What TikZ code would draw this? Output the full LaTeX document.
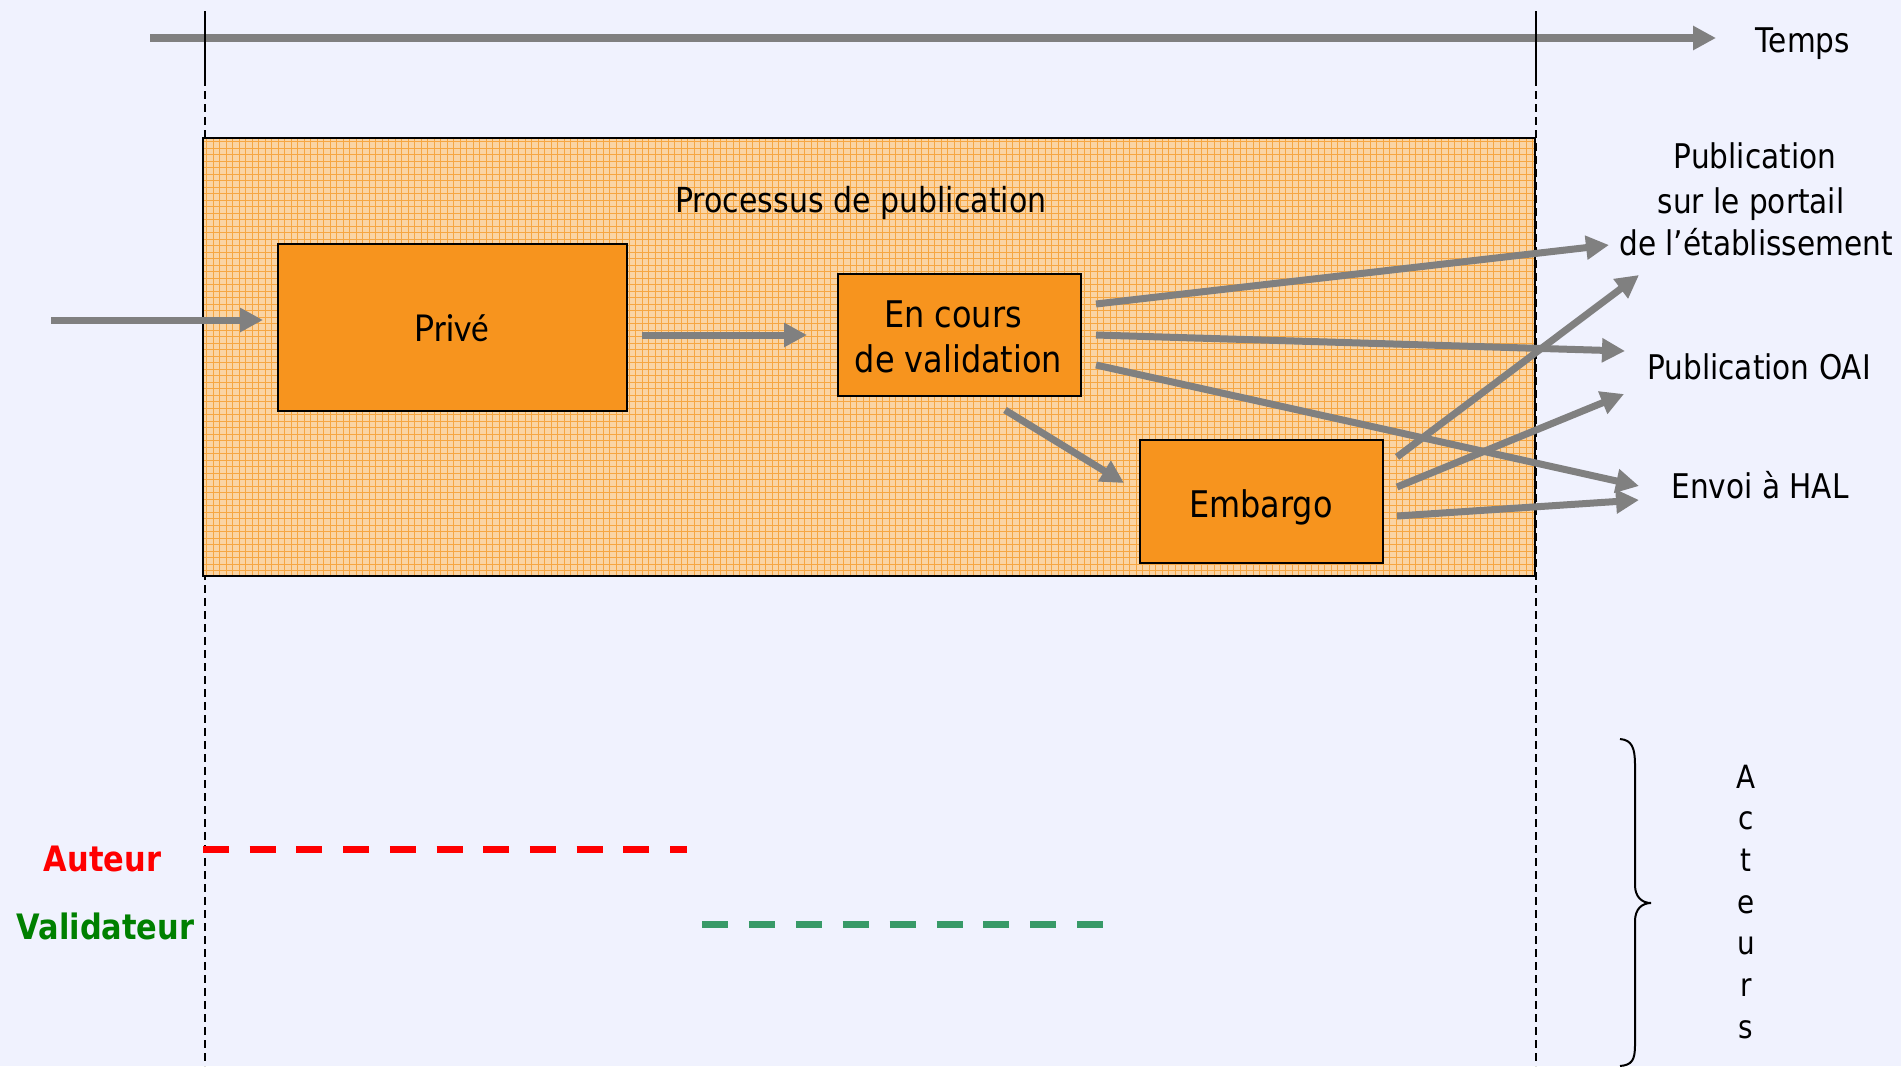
\documentclass[tikz,border=0pt]{standalone}
\usepackage{fontspec}
\setmainfont{DejaVu Sans}[FakeStretch=0.87]
\newfontfamily\latofont{Lato}[FakeStretch=0.9]
\usetikzlibrary{arrows.meta}
\definecolor{bg}{RGB}{240,242,254}
\definecolor{peach}{RGB}{250,212,164}
\definecolor{gridor}{RGB}{246,166,66}
\definecolor{boxor}{RGB}{247,148,30}
\definecolor{arrgray}{RGB}{128,128,128}
\definecolor{redA}{RGB}{255,0,0}
\definecolor{greenV}{RGB}{0,128,0}
\definecolor{greenD}{RGB}{56,154,104}
\begin{document}
\begin{tikzpicture}[x=1pt,y=-1pt,
  garrow/.style={draw=arrgray, line width=7pt, -{Triangle[length=23pt,width=23pt]}},
  vsolid/.style={draw=black, line width=1.5pt},
  vdash/.style={draw=black, line width=1.5pt, dash pattern=on 8pt off 5pt},
  obox/.style={draw=black, line width=2pt, fill=boxor, inner sep=0pt},
  lbl/.style={inner sep=0pt, anchor=base, font=\fontsize{34}{40}\selectfont},
  btxt/.style={inner sep=0pt, anchor=base, font=\fontsize{36.7}{44}\selectfont},
  alb/.style={inner sep=0pt, anchor=base, font=\fontsize{35}{42}\selectfont\bfseries},
  actl/.style={inner sep=0pt, anchor=base, font=\fontsize{32}{40}\selectfont}
]
\useasboundingbox (0,0) rectangle (1901,1066);
\fill[bg] (0,0) rectangle (1901,1066);

% time axis
\coordinate (t0) at (150,38);
\coordinate (t1) at (1716,38);
\draw[draw=arrgray, line width=8pt, -{Triangle[length=23pt,width=23pt]}] (t0) -- (t1);
\node[lbl] (temps) at (1803,52) {Temps};

% vertical lines
\coordinate (l0) at (205,11); \coordinate (l1) at (205,78); \coordinate (l2) at (205,1066);
\coordinate (r0) at (1536,11); \coordinate (r1) at (1536,78); \coordinate (r2) at (1536,1066);
\draw[vsolid] (l0) -- (l1);
\draw[vdash] (l1) -- (l2);
\draw[vsolid] (r0) -- (r1);
\draw[vdash] (r1) -- (r2);

% process box with grid texture
\fill[peach] (203,138) rectangle (1535,576);
\begin{scope}
\clip (203,138) rectangle (1535,576);
\foreach \x in {206.5,213,...,1535} \draw[gridor, line width=1pt] (\x,138) -- (\x,576);
\foreach \y in {141.5,148,...,576} \draw[gridor, line width=1pt] (203,\y) -- (1535,\y);
\end{scope}
\node[draw=black, line width=1.5pt, inner sep=0pt, minimum width=1332pt, minimum height=438pt] (proc) at (869,357) {};
\node[lbl, font=\fontsize{34.5}{40}\selectfont] (proctitle) at (861,212) {Processus de publication};

% state boxes
\node[obox, minimum width=349pt, minimum height=167pt] (prive) at (452.5,327.5) {};
\node[obox, minimum width=243pt, minimum height=122pt] (encours) at (959.5,335) {};
\node[obox, minimum width=243pt, minimum height=123pt] (embargo) at (1261.5,501.5) {};
\node[inner sep=0pt, anchor=base, font=\fontsize{37}{44}\selectfont\latofont] (privet) at (452,341) {Privé};
\node[btxt] (ec1) at (953,327) {En cours};
\node[btxt] (ec2) at (958.5,372) {de validation};
\node[btxt] (embt) at (1261,517) {Embargo};

% outcome labels
\node[lbl] (p1) at (1755,168) {Publication};
\node[lbl] (p2) at (1751,213) {sur le portail};
\node[lbl] (p3) at (1756,255) {de l’établissement};
\node[lbl] (oai) at (1759,379) {Publication OAI};
\node[lbl] (hal) at (1760,498) {Envoi à HAL};

% arrow end points
\coordinate (in0) at (51,320);   \coordinate (in1) at (263,320);
\coordinate (pe0) at (642,335);  \coordinate (pe1) at (807,335);
\coordinate (ee0) at (1005,410); \coordinate (ee1) at (1124,483);
\coordinate (a1s) at (1096,304); \coordinate (a1e) at (1609,245);
\coordinate (a2s) at (1096,335); \coordinate (a2e) at (1625,351);
\coordinate (a3s) at (1096,365); \coordinate (a3e) at (1639,486);
\coordinate (a4s) at (1397,457); \coordinate (a4e) at (1639,275);
\coordinate (a5s) at (1397,487); \coordinate (a5e) at (1624,394);
\coordinate (a6s) at (1397,516); \coordinate (a6e) at (1639,500);

\draw[garrow] (in0) -- (in1);
\draw[garrow] (pe0) -- (pe1);
\draw[garrow] (ee0) -- (ee1);
\draw[garrow] (a1s) -- (a1e);
\draw[garrow] (a2s) -- (a2e);
\draw[garrow] (a3s) -- (a3e);
\draw[garrow] (a4s) -- (a4e);
\draw[garrow] (a5s) -- (a5e);
\draw[garrow] (a6s) -- (a6e);

% actors
\draw[redA, line width=7pt, dash pattern=on 26pt off 20.7pt] (203,849) -- (687,849);
\draw[greenD, line width=7pt, dash pattern=on 26pt off 20.9pt] (702,924) -- (1103,924);
\node[alb, text=redA] (aut) at (102.5,871) {Auteur};
\node[alb, text=greenV] (val) at (105.5,939) {Validateur};

% brace
\draw[black, line width=2pt] (1620,739) .. controls (1632,740) and (1635,748) .. (1635,765)
  -- (1635,885) .. controls (1635,897) and (1642,903) .. (1651,903)
  .. controls (1642,903) and (1635,909) .. (1635,921)
  -- (1635,1045) .. controls (1635,1060) and (1632,1065) .. (1620,1066);
\foreach \c [count=\i from 0] in {A,c,t,e,u,r,s}
  \node[actl] (act\i) at (1746,788+41.7*\i) {\c};
\end{tikzpicture}
\end{document}
